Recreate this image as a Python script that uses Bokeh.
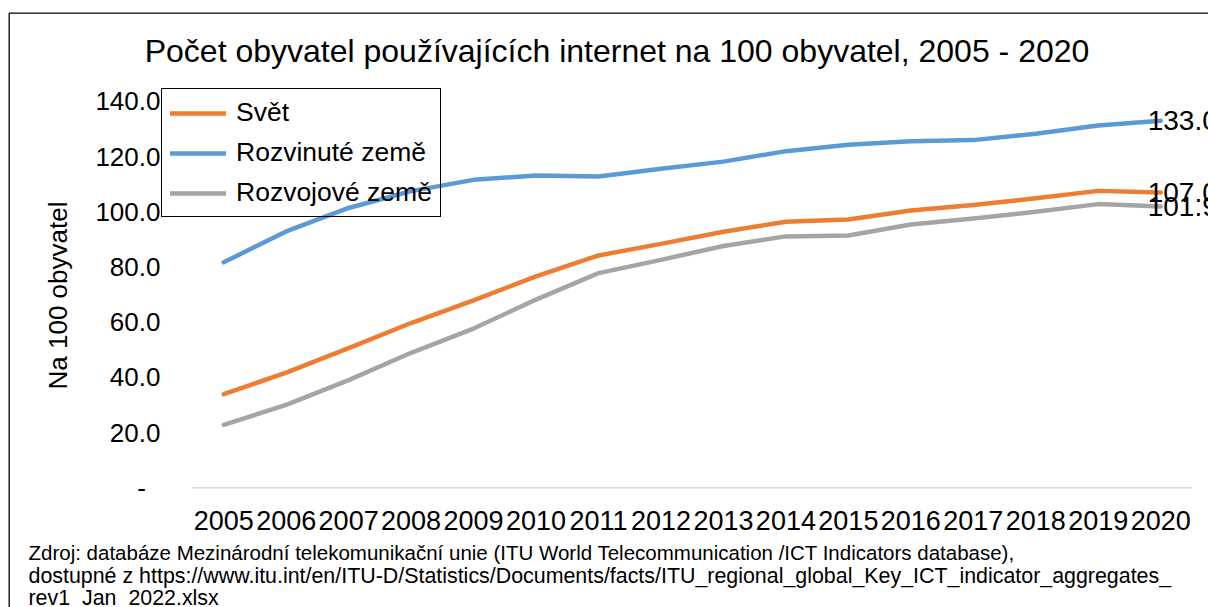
import math
from bokeh.plotting import figure
from bokeh.models import Range1d, ColumnDataSource, Label, BoxAnnotation
from bokeh.core.properties import value
from bokeh.embed import file_html
from bokeh.resources import INLINE

# ---------------- data ----------------
years = list(range(2005, 2021))
svet = [33.9, 41.7, 50.6, 59.7, 67.9, 76.6, 84.2, 88.4, 92.8, 96.4, 97.2, 100.5, 102.5, 104.9, 107.6, 107.0]
rozvinute = [81.7, 92.9, 101.4, 107.5, 111.6, 113.2, 112.8, 115.6, 118.2, 122.0, 124.3, 125.6, 126.0, 128.3, 131.3, 133.0]
rozvojove = [22.8, 30.0, 39.0, 48.9, 57.7, 68.2, 77.8, 82.6, 87.6, 91.1, 91.4, 95.4, 97.6, 100.0, 102.8, 101.9]
series_names = ["Svět", "Rozvinuté země", "Rozvojové země"]
ytick_values = [0, 20, 40, 60, 80, 100, 120, 140]
ytick_labels = ["-", "20.0", "40.0", "60.0", "80.0", "100.0", "120.0", "140.0"]
xtick_labels = [str(y) for y in years]
title_text = "Počet obyvatel používajících internet na 100 obyvatel, 2005 - 2020"
ylabel_text = "Na 100 obyvatel"
source_lines = [
    "Zdroj: databáze Mezinárodní telekomunikační unie (ITU World Telecommunication /ICT Indicators database),",
    "dostupné z https://www.itu.int/en/ITU-D/Statistics/Documents/facts/ITU_regional_global_Key_ICT_indicator_aggregates_",
    "rev1_Jan_2022.xlsx",
]

COLORS = ["#ED7D31", "#5B9BD5", "#A5A5A5"]
FONT = "Liberation Sans"

# ---------------- geometry (canvas px) ----------------
W, H = 1208, 607
PX_PER_YEAR = 62.467
X_FIRST_PX = 223.2          # where the first category sits
PX_PER_UNIT = 2.7586
Y_ZERO_PX = 487.2           # where value 0 sits
X0 = years[0] - X_FIRST_PX / PX_PER_YEAR
X1 = X0 + W / PX_PER_YEAR
YT = Y_ZERO_PX / PX_PER_UNIT
YB = YT - H / PX_PER_UNIT

def xd(px):
    return X0 + px / PX_PER_YEAR

def yd(py):
    return YT - py / PX_PER_UNIT

p = figure(width=W, height=H, output_backend="svg", toolbar_location=None,
           x_range=Range1d(X0, X1), y_range=Range1d(YB, YT),
           min_border=0)
p.title.text = ""
p.outline_line_color = None
p.background_fill_color = "white"
p.border_fill_color = "white"
p.grid.visible = False
p.axis.visible = False

# category axis baseline
p.segment(x0=[years[0] - 0.5], y0=[0], x1=[years[-1] + 0.5], y1=[0],
          line_color="#D9D9D9", line_width=1.5)

# y tick labels
ysrc = ColumnDataSource(dict(x=[years[0] - 0.5] * len(ytick_values), y=ytick_values,
                             t=[(l + "\u00a0\u00a0" if l == "-" else l) for l in ytick_labels]))
p.text(x="x", y="y", text="t", source=ysrc, x_offset=-32, text_align="right",
       text_baseline="middle", text_font=value(FONT), text_font_size="26px",
       text_color="black")

# x tick labels
xsrc = ColumnDataSource(dict(x=years, y=[0] * len(years), t=xtick_labels))
p.text(x="x", y="y", text="t", source=xsrc, y_offset=32.5, text_align="center",
       text_baseline="middle", text_font=value(FONT), text_font_size="27px",
       text_color="black")

# lines
for vals, name, col in zip([svet, rozvinute, rozvojove], series_names, COLORS):
    p.line(years, vals, line_color=col, line_width=4.5, line_cap="round",
           line_join="round", legend_label=name)

# end labels
ends = [svet[-1], rozvinute[-1], rozvojove[-1]]
last = ColumnDataSource(dict(x=[years[-1]] * 3, y=ends, t=[f"{v:.1f}" for v in ends]))
p.text(x="x", y="y", text="t", source=last, x_offset=-13, text_align="left",
       text_baseline="middle", text_font=value(FONT), text_font_size="28px",
       text_color="black")

# legend
lg = p.legend[0]
lg.location = (161, H - 217)
lg.margin = 0
lg.padding = 8
lg.spacing = 9
lg.glyph_width = 56
lg.glyph_height = 30
lg.label_height = 30
lg.label_standoff = 10
lg.label_text_font = FONT
lg.label_text_font_size = "26.5px"
lg.label_text_color = "black"
lg.border_line_color = "black"
lg.border_line_width = 1.5
lg.border_line_alpha = 1.0
lg.background_fill_alpha = 0

# title
p.add_layout(Label(x=xd(616.5), y=yd(50.5), text=title_text, text_align="center",
                   text_baseline="middle", text_font=FONT, text_font_size="32px",
                   text_color="black"))

# y axis title
p.add_layout(Label(x=xd(57.5), y=yd(295), text=ylabel_text, angle=math.pi / 2,
                   text_align="center", text_baseline="middle", text_font=FONT,
                   text_font_size="26px", text_color="black"))

# source
for line, mid, fs in zip(source_lines, [551.5, 575.5, 597], ["20.5px", "21.4px", "21.4px"]):
    p.add_layout(Label(x=xd(28), y=yd(mid), text=line, text_align="left",
                       text_baseline="middle", text_font=FONT,
                       text_font_size=fs, text_color="black"))

# outer chart box (left and top edges visible)
p.add_layout(BoxAnnotation(left=xd(8.7), right=xd(W + 50), top=yd(12.7), bottom=yd(H + 50),
                           fill_alpha=0, line_color="black", line_alpha=1.0, line_width=1.3))

open("out.html", "w").write(file_html(p, INLINE))
